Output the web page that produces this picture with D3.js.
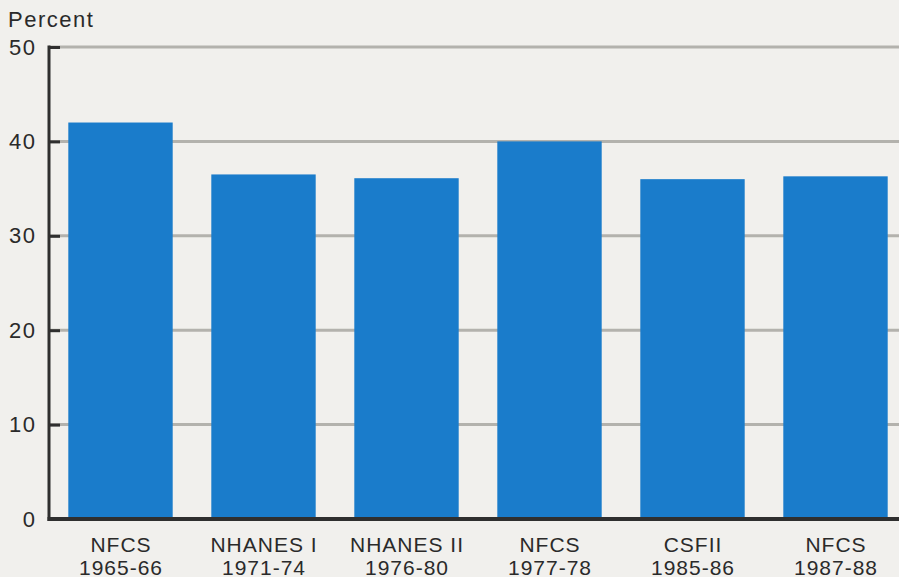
<!DOCTYPE html>
<html>
<head>
<meta charset="utf-8">
<script src="https://cdn.jsdelivr.net/npm/d3@7"></script>
<style>
  html, body { margin: 0; padding: 0; background: #f1f0ed; }
  svg { display: block; }
  text { font-family: "Liberation Sans", Arial, Helvetica, sans-serif; fill: #2a2a2a; }
</style>
</head>
<body>
<svg id="chart" width="899" height="577"></svg>
<script>
const surveys = ["NFCS", "NHANES I", "NHANES II", "NFCS", "CSFII", "NFCS"];
const periods = ["1965-66", "1971-74", "1976-80", "1977-78", "1985-86", "1987-88"];
const values = [42.0, 36.5, 36.1, 40.0, 36.0, 36.3];
const yTicks = [0, 10, 20, 30, 40, 50];
const yLabel = "Percent";

const W = 899, H = 577;
const svg = d3.select("#chart");
svg.append("rect").attr("width", W).attr("height", H).attr("fill", "#f1f0ed");

const axisX = 49;
const idx = d3.range(values.length);
const x = d3.scaleBand().domain(idx).range([axisX, axisX + 6 * 143]).paddingInner(0.27).paddingOuter(0.135);
const y = d3.scaleLinear().domain([0, 50]).range([519, 47]);

// gridlines
svg.append("g").selectAll("line").data(yTicks.filter(d => d > 0)).join("line")
  .attr("x1", axisX).attr("x2", W)
  .attr("y1", d => y(d)).attr("y2", d => y(d))
  .attr("stroke", "#b3b2ad").attr("stroke-width", 3);

// bars
svg.append("g").selectAll("rect").data(idx).join("rect")
  .attr("x", i => x(i)).attr("width", x.bandwidth())
  .attr("y", i => y(values[i])).attr("height", i => y(0) - y(values[i]))
  .attr("fill", "#1a7ccb");

// y axis
const yAxis = d3.axisLeft(y).tickValues(yTicks).tickSize(-11).tickPadding(12.5);
const gy = svg.append("g").attr("transform", `translate(${axisX},0)`).call(yAxis);
gy.select(".domain").remove();
gy.selectAll(".tick line").attr("stroke", "#2f2f2f").attr("stroke-width", 3);
gy.selectAll(".tick text").attr("font-size", 22).attr("fill", "#2a2a2a")
  .attr("letter-spacing", "1.5px")
  .attr("font-family", "Liberation Sans, Arial, sans-serif");
svg.append("line").attr("x1", axisX).attr("x2", axisX).attr("y1", y(50) - 1.5).attr("y2", y(0) + 2)
  .attr("stroke", "#2f2f2f").attr("stroke-width", 3);

// x axis
const xAxis = d3.axisBottom(x).tickSize(0).tickFormat(() => "");
const gx = svg.append("g").attr("transform", `translate(0,${y(0)})`).call(xAxis);
gx.select(".domain").remove();
svg.append("line").attr("x1", axisX - 1.5).attr("x2", W).attr("y1", y(0)).attr("y2", y(0))
  .attr("stroke", "#2f2f2f").attr("stroke-width", 4);

gx.selectAll(".tick").each(function(i) {
  const t = d3.select(this);
  t.select("text").remove();
  const txt = t.append("text").attr("text-anchor", "middle").attr("font-size", 21).attr("fill", "#2a2a2a")
    .attr("letter-spacing", "1px")
    .attr("font-family", "Liberation Sans, Arial, sans-serif");
  txt.append("tspan").attr("x", 0.5).attr("y", 33).text(surveys[i]);
  txt.append("tspan").attr("x", 0.5).attr("y", 56).text(periods[i]);
});

svg.append("text").attr("x", 8).attr("y", 27).attr("font-size", 22)
  .attr("letter-spacing", "1.5px").text(yLabel);
</script>
</body>
</html>
